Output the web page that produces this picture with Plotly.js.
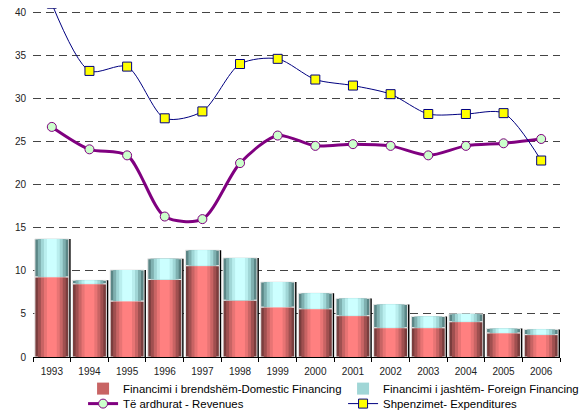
<!DOCTYPE html>
<html>
<head>
<meta charset="utf-8">
<script src="https://cdn.plot.ly/plotly-3.0.1.min.js"></script>
<style>html,body{margin:0;padding:0;background:#fff}#chart{width:584px;height:414px}</style>
</head>
<body>
<div id="chart"></div>
<script>
const years = ['1993','1994','1995','1996','1997','1998','1999','2000','2001','2002','2003','2004','2005','2006'];
const domestic = [9.3, 8.5, 6.5, 9.0, 10.6, 6.6, 5.8, 5.6, 4.8, 3.4, 3.4, 4.1, 2.8, 2.6];
const foreign  = [4.4, 0.4, 3.6, 2.4, 1.8, 4.9, 2.9, 1.8, 2.0, 2.7, 1.3, 0.9, 0.5, 0.6];
const revenues = [26.7, 24.1, 23.4, 16.3, 16.0, 22.5, 25.7, 24.5, 24.7, 24.5, 23.4, 24.5, 24.8, 25.3];
const expenditures = [41.0, 33.2, 33.7, 27.7, 28.5, 34.0, 34.6, 32.2, 31.5, 30.5, 28.2, 28.2, 28.3, 22.8];

const totals = domestic.map((d, i) => d + foreign[i]);

const font = "Liberation Sans, Arial, sans-serif";
const domColors = ['#7a3d3d', '#a05050', '#c86464', '#e87474', '#ff8080'];
const forColors = ['#5b8686', '#7fb0b0', '#a0d6d6', '#b9eeee', '#ccffff'];
const widths = [0.9, 0.74, 0.58, 0.42, 0.26];

const traces = [];
traces.push({
  type: 'bar', x: years, y: totals, width: 0.9, offset: -0.40,
  marker: {color: '#000'}, showlegend: false, hoverinfo: 'skip'
});
widths.forEach((w, k) => {
  traces.push({
    type: 'bar', x: years, y: domestic, width: w, offset: -w / 2,
    name: 'Financimi i brendshëm-Domestic Financing',
    marker: {color: domColors[k], line: {color: k === 0 ? '#e6e6e6' : 'rgba(0,0,0,0)', width: k === 0 ? 1 : 0}},
    showlegend: k === 2, legendrank: 1, legend: 'legend', hoverinfo: 'skip'
  });
});
widths.forEach((w, k) => {
  traces.push({
    type: 'bar', x: years, y: foreign, base: domestic, width: w, offset: -w / 2,
    name: 'Financimi i jashtëm- Foreign Financing',
    marker: {color: forColors[k], line: {color: k === 0 ? '#e6e6e6' : 'rgba(0,0,0,0)', width: k === 0 ? 1 : 0}},
    showlegend: k === 2, legendrank: 2, legend: 'legend', hoverinfo: 'skip'
  });
});
traces.push({
  type: 'scatter', mode: 'lines+markers', x: years, y: revenues,
  name: 'Të ardhurat - Revenues', legendrank: 3, legend: 'legend2',
  line: {color: '#800080', width: 3, shape: 'spline', smoothing: 0.8},
  marker: {symbol: 'circle', size: 9, color: '#ccffcc', line: {color: '#800080', width: 1}}
});
traces.push({
  type: 'scatter', mode: 'lines+markers', x: years, y: expenditures,
  name: 'Shpenzimet- Expenditures', legendrank: 4, legend: 'legend2',
  line: {color: '#000080', width: 1, shape: 'spline', smoothing: 0.8},
  marker: {symbol: 'square', size: 9, color: '#ffff00', line: {color: '#000080', width: 1}},
  cliponaxis: true
});

const legendBase = {
  orientation: 'h', x: 0.095, xanchor: 'left', yanchor: 'top',
  entrywidth: 215, entrywidthmode: 'pixels', traceorder: 'normal',
  font: {size: 11.4, color: '#000', family: font}, tracegroupgap: 0,
  itemwidth: 30, bgcolor: 'rgba(0,0,0,0)'
};

const layout = {
  width: 584, height: 414,
  margin: {l: 33, r: 24, t: 8, b: 57, autoexpand: false},
  paper_bgcolor: '#fff', plot_bgcolor: '#fff',
  barmode: 'overlay',
  font: {family: font, size: 10, color: '#222'},
  xaxis: {
    type: 'category', tickson: 'boundaries', ticks: 'outside', ticklen: 4,
    tickcolor: '#000', showline: true, linecolor: '#000', linewidth: 1,
    showgrid: false, ticklabelstandoff: 5, tickfont: {size: 10, color: '#222'}, range: [-0.5, 13.5]
  },
  yaxis: {
    range: [0, 40.5], dtick: 5, tick0: 0, showgrid: true, gridcolor: '#444',
    griddash: '8px,5px', gridwidth: 1, zeroline: false, showline: false,
    ticks: '', ticklabelstandoff: 6, tickfont: {size: 10, color: '#222'}
  },
  legend: Object.assign({}, legendBase, {y: -0.049}),
  legend2: Object.assign({}, legendBase, {y: -0.092}),
  showlegend: true
};

Plotly.newPlot('chart', traces, layout, {displayModeBar: false, staticPlot: true});
</script>
</body>
</html>
